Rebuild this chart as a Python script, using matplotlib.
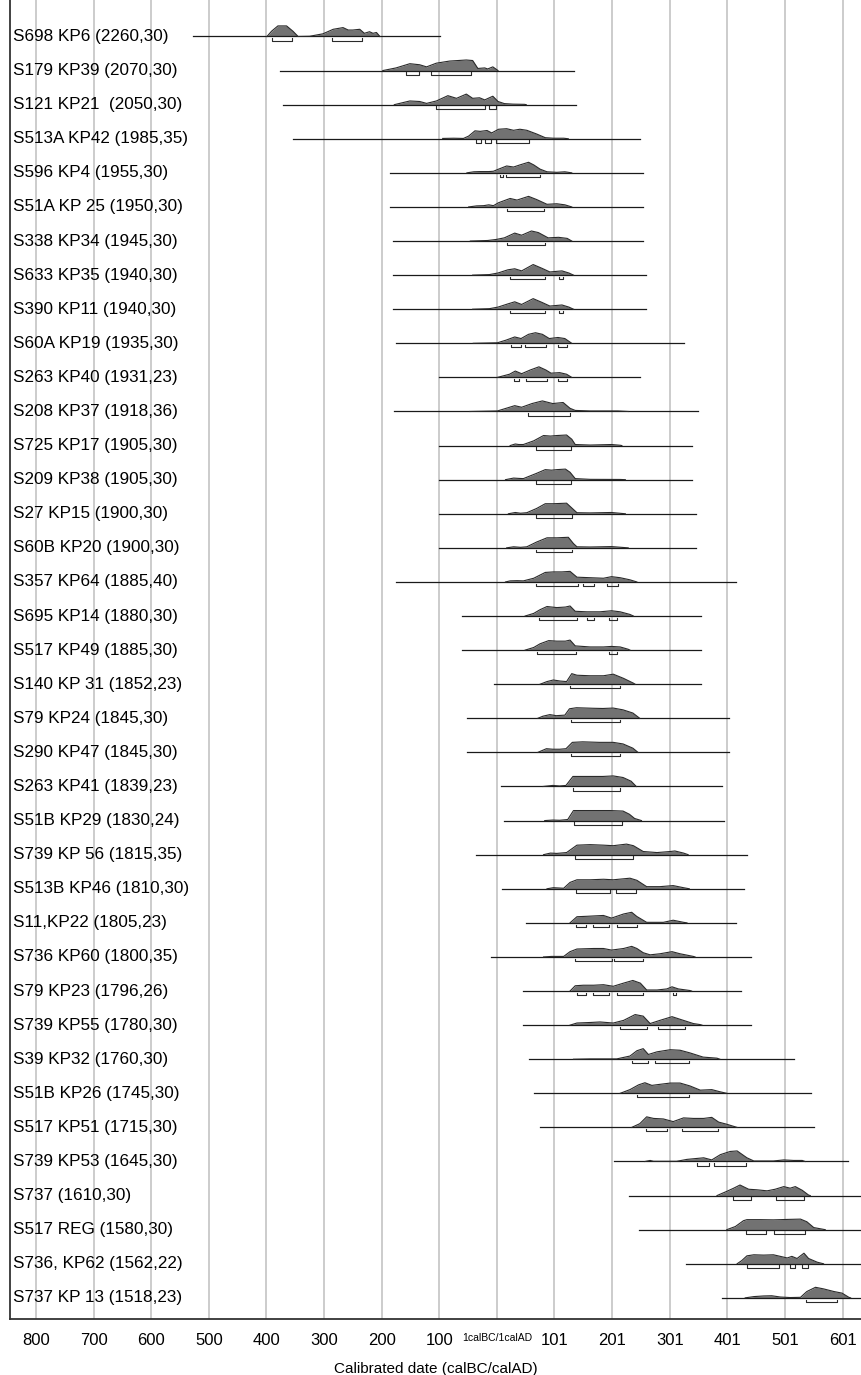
import matplotlib
matplotlib.use("Agg")
import matplotlib.pyplot as plt

plt.rcParams['font.family'] = ['Liberation Sans', 'DejaVu Sans']

# sample labels, top to bottom
labels = [
    "S698 KP6 (2260,30)", "S179 KP39 (2070,30)", "S121 KP21  (2050,30)",
    "S513A KP42 (1985,35)", "S596 KP4 (1955,30)", "S51A KP 25 (1950,30)",
    "S338 KP34 (1945,30)", "S633 KP35 (1940,30)", "S390 KP11 (1940,30)",
    "S60A KP19 (1935,30)", "S263 KP40 (1931,23)", "S208 KP37 (1918,36)",
    "S725 KP17 (1905,30)", "S209 KP38 (1905,30)", "S27 KP15 (1900,30)",
    "S60B KP20 (1900,30)", "S357 KP64 (1885,40)", "S695 KP14 (1880,30)",
    "S517 KP49 (1885,30)", "S140 KP 31 (1852,23)", "S79 KP24 (1845,30)",
    "S290 KP47 (1845,30)", "S263 KP41 (1839,23)", "S51B KP29 (1830,24)",
    "S739 KP 56 (1815,35)", "S513B KP46 (1810,30)", "S11,KP22 (1805,23)",
    "S736 KP60 (1800,35)", "S79 KP23 (1796,26)", "S739 KP55 (1780,30)",
    "S39 KP32 (1760,30)", "S51B KP26 (1745,30)", "S517 KP51 (1715,30)",
    "S739 KP53 (1645,30)", "S737 (1610,30)", "S517 REG (1580,30)",
    "S736, KP62 (1562,22)", "S737 KP 13 (1518,23)",
]

# extent of the horizontal line of each row (years, BC negative)
spans = [
    (-528, -98), (-377, 134), (-371, 138), (-354, 249), (-185, 254),
    (-185, 254), (-181, 253), (-181, 259), (-181, 259), (-175, 325),
    (-100, 249), (-179, 349), (-100, 339), (-100, 339), (-100, 345),
    (-100, 345), (-175, 415), (-60, 354), (-60, 354), (-5, 354),
    (-52, 403), (-52, 403), (8, 390), (13, 394), (-36, 434),
    (9, 429), (50, 415), (-10, 441), (45, 424), (45, 441),
    (55, 515), (65, 545), (75, 550), (204, 610), (230, 640),
    (246, 640), (329, 640), (390, 640),
]

# probability curves: (year, relative height)
density = [
    [(-399, 0), (-391, 0.5), (-380, 1.0), (-365, 1.0), (-354, 0.5), (-345, 0),
     (-325, 0.02), (-302, 0.25), (-284, 0.68), (-267, 0.84), (-258, 0.61),
     (-250, 0.61), (-238, 0.68), (-230, 0.3), (-221, 0.45), (-215, 0.3),
     (-209, 0.38), (-203, 0)],
    [(-198, 0), (-175, 0.25), (-151, 0.65), (-134, 0.55), (-122, 0.35),
     (-105, 0.7), (-82, 0.9), (-53, 1.0), (-42, 0.95), (-33, 0.2), (-21, 0.25),
     (-16, 0.15), (-7, 0.35), (2, 0)],
    [(-178, 0), (-151, 0.35), (-134, 0.3), (-122, 0.12), (-105, 0.35),
     (-85, 0.85), (-70, 0.6), (-53, 1.0), (-42, 0.6), (-30, 0.65), (-21, 0.45),
     (-7, 0.8), (2, 0.3), (13, 0.1), (28, 0.05), (48, 0.03), (51, 0)],
    [(-94, 0.03), (-75, 0.05), (-58, 0.03), (-49, 0.25), (-38, 0.75),
     (-29, 0.7), (-17, 0.78), (-9, 0.55), (3, 0.9), (17, 0.95), (29, 0.8),
     (40, 0.9), (52, 0.8), (69, 0.45), (84, 0.1), (98, 0.05), (116, 0.05),
     (124, 0)],
    [(-52, 0), (-40, 0.1), (-29, 0.12), (-14, 0.12), (-6, 0.15), (3, 0.35),
     (17, 0.65), (29, 0.55), (40, 0.75), (55, 1.0), (64, 0.75), (75, 0.35),
     (87, 0.1), (104, 0.05), (118, 0.1), (130, 0)],
    [(-49, 0), (-35, 0.1), (-23, 0.12), (-14, 0.2), (-6, 0.12), (3, 0.4),
     (23, 0.8), (35, 0.65), (55, 1.0), (69, 0.7), (87, 0.25), (104, 0.3),
     (118, 0.2), (130, 0)],
    [(-46, 0), (-16, 0.05), (-1, 0.15), (13, 0.3), (31, 0.75), (43, 0.55),
     (60, 0.95), (72, 0.8), (89, 0.3), (107, 0.35), (122, 0.25), (130, 0)],
    [(-42, 0), (-13, 0.05), (2, 0.2), (19, 0.5), (31, 0.6), (43, 0.4),
     (63, 1.0), (78, 0.65), (92, 0.3), (113, 0.4), (125, 0.2), (133, 0)],
    [(-42, 0), (-13, 0.05), (2, 0.2), (19, 0.5), (31, 0.7), (43, 0.45),
     (63, 1.0), (78, 0.65), (92, 0.3), (113, 0.4), (125, 0.2), (133, 0)],
    [(-41, 0), (1, 0.05), (16, 0.3), (31, 0.6), (42, 0.45), (55, 0.85),
     (67, 1.0), (79, 0.85), (91, 0.45), (106, 0.55), (118, 0.45), (130, 0)],
    [(1, 0), (22, 0.3), (32, 0.6), (43, 0.35), (58, 0.7), (73, 1.0), (85, 0.7),
     (94, 0.4), (109, 0.45), (121, 0.3), (130, 0)],
    [(-47, 0), (1, 0.05), (19, 0.35), (31, 0.55), (43, 0.4), (61, 0.75),
     (79, 1.0), (97, 0.75), (115, 0.85), (127, 0.3), (136, 0.1), (162, 0.05),
     (210, 0.05), (228, 0)],
    [(23, 0), (32, 0.15), (38, 0.1), (46, 0.1), (64, 0.45), (81, 0.95),
     (93, 0.9), (104, 0.95), (121, 1.0), (130, 0.6), (136, 0.1), (162, 0.05),
     (199, 0.1), (214, 0.03), (217, 0)],
    [(15, 0), (29, 0.15), (38, 0.12), (46, 0.1), (69, 0.6), (84, 0.95),
     (95, 0.9), (104, 0.95), (119, 1.0), (127, 0.7), (136, 0.1), (162, 0.03),
     (214, 0.02), (223, 0)],
    [(20, 0), (32, 0.12), (41, 0.05), (52, 0.1), (69, 0.5), (84, 0.95),
     (98, 0.95), (121, 1.0), (133, 0.4), (139, 0.1), (162, 0.08), (199, 0.12),
     (223, 0)],
    [(17, 0), (29, 0.1), (41, 0.05), (52, 0.1), (69, 0.55), (87, 0.95),
     (104, 0.95), (124, 1.0), (133, 0.4), (139, 0.1), (162, 0.08), (199, 0.12),
     (228, 0)],
    [(15, 0), (23, 0.1), (35, 0.12), (46, 0.1), (64, 0.35), (84, 0.9),
     (98, 0.95), (113, 0.95), (127, 1.0), (139, 0.45), (162, 0.4), (185, 0.35),
     (199, 0.5), (214, 0.4), (231, 0.2), (243, 0)],
    [(49, 0), (64, 0.25), (75, 0.6), (87, 0.9), (104, 0.8), (119, 0.85),
     (127, 0.95), (136, 0.45), (156, 0.4), (179, 0.4), (199, 0.5), (214, 0.4),
     (231, 0.15), (237, 0)],
    [(49, 0), (64, 0.25), (75, 0.6), (90, 0.9), (104, 0.85), (119, 0.85),
     (127, 0.95), (136, 0.4), (162, 0.3), (185, 0.3), (199, 0.35), (214, 0.3),
     (228, 0.08), (231, 0)],
    [(75, 0), (87, 0.25), (98, 0.4), (110, 0.3), (121, 0.25), (130, 1.0),
     (139, 0.85), (162, 0.8), (185, 0.8), (202, 0.95), (220, 0.55),
     (237, 0.1), (240, 0)],
    [(71, 0), (80, 0.2), (92, 0.35), (103, 0.25), (118, 0.3), (126, 0.9),
     (138, 1.0), (167, 0.95), (184, 0.93), (202, 0.97), (219, 0.8),
     (236, 0.5), (248, 0)],
    [(71, 0), (86, 0.35), (97, 0.3), (109, 0.3), (120, 0.35), (131, 0.95),
     (149, 1.0), (178, 0.95), (202, 0.95), (219, 0.8), (236, 0.4), (245, 0)],
    [(80, 0), (97, 0.1), (109, 0.05), (120, 0.1), (132, 0.95), (161, 0.95),
     (184, 0.95), (202, 1.0), (219, 0.85), (233, 0.5), (242, 0)],
    [(83, 0), (97, 0.05), (109, 0.03), (123, 0.1), (133, 0.95), (161, 0.95),
     (196, 0.95), (219, 0.9), (230, 0.6), (239, 0.2), (251, 0)],
    [(81, 0), (93, 0.15), (104, 0.12), (121, 0.2), (139, 0.9), (162, 0.95),
     (185, 0.9), (202, 0.85), (225, 1.0), (237, 0.85), (254, 0.3), (278, 0.2),
     (301, 0.3), (309, 0.35), (324, 0.15), (332, 0)],
    [(87, 0), (98, 0.1), (116, 0.05), (127, 0.6), (139, 0.85), (162, 0.85),
     (185, 0.9), (202, 0.85), (231, 1.0), (243, 0.8), (260, 0.2), (283, 0.2),
     (306, 0.3), (324, 0.1), (334, 0)],
    [(127, 0), (139, 0.58), (156, 0.62), (185, 0.7), (199, 0.45), (220, 0.84),
     (234, 1.0), (243, 0.6), (260, 0.05), (289, 0.05), (306, 0.25),
     (324, 0.05), (330, 0)],
    [(81, 0), (95, 0.05), (116, 0.05), (127, 0.5), (139, 0.75), (168, 0.8),
     (185, 0.8), (199, 0.65), (220, 0.8), (234, 1.0), (243, 0.8), (254, 0.4),
     (266, 0.2), (283, 0.3), (304, 0.5), (318, 0.3), (341, 0.05), (344, 0)],
    [(127, 0), (136, 0.5), (150, 0.55), (168, 0.55), (185, 0.6), (202, 0.45),
     (220, 0.75), (236, 1.0), (249, 0.75), (260, 0.1), (278, 0.1), (295, 0.2),
     (304, 0.4), (315, 0.2), (335, 0.05), (338, 0)],
    [(127, 0), (139, 0.2), (162, 0.25), (179, 0.3), (202, 0.2), (220, 0.45),
     (240, 1.0), (254, 0.85), (266, 0.15), (283, 0.45), (304, 0.8), (321, 0.5),
     (341, 0.15), (353, 0.05), (356, 0)],
    [(133, 0), (162, 0.03), (208, 0.03), (231, 0.3), (243, 0.8), (254, 1.0),
     (263, 0.45), (278, 0.7), (301, 0.9), (318, 0.85), (335, 0.6), (358, 0.2),
     (382, 0.1), (387, 0)],
    [(214, 0), (231, 0.35), (246, 0.8), (257, 1.0), (269, 0.75), (283, 0.85),
     (301, 0.97), (318, 0.97), (335, 0.7), (353, 0.3), (373, 0.35),
     (387, 0.15), (399, 0)],
    [(234, 0), (248, 0.35), (260, 1.0), (272, 0.85), (289, 0.8), (306, 0.55),
     (324, 0.9), (341, 0.85), (359, 0.85), (373, 0.95), (385, 0.5),
     (399, 0.3), (414, 0.05), (417, 0)],
    [(257, 0), (266, 0.1), (272, 0.02), (312, 0.02), (330, 0.2), (359, 0.35),
     (373, 0.15), (388, 0.65), (405, 0.95), (417, 1.0), (434, 0.35),
     (446, 0.05), (480, 0.05), (498, 0.15), (515, 0.1), (530, 0.1), (535, 0)],
    [(382, 0), (399, 0.4), (411, 0.7), (422, 1.0), (437, 0.6), (451, 0.55),
     (469, 0.45), (483, 0.6), (498, 0.85), (509, 0.7), (518, 0.85),
     (530, 0.5), (541, 0.05), (544, 0)],
    [(399, 0), (414, 0.3), (428, 0.85), (434, 0.95), (457, 0.95), (480, 0.93),
     (504, 0.97), (527, 1.0), (538, 0.75), (550, 0.2), (567, 0.03), (570, 0)],
    [(417, 0), (425, 0.3), (434, 0.75), (446, 0.85), (463, 0.82), (480, 0.85),
     (492, 0.7), (504, 0.55), (512, 0.7), (521, 0.5), (533, 1.0), (541, 0.5),
     (556, 0.15), (567, 0)],
    [(431, 0), (446, 0.12), (463, 0.18), (477, 0.2), (492, 0.08), (509, 0.03),
     (527, 0.05), (538, 0.6), (553, 1.0), (567, 0.85), (585, 0.6),
     (599, 0.45), (611, 0.05), (614, 0)],
]

# highest posterior density ranges drawn as brackets under each row
ranges = [
    [(-391, -356), (-287, -234)],
    [(-157, -136), (-115, -45)],
    [(-105, -20), (-14, -1)],
    [(-37, -28), (-21, -10), (-1, 55)],
    [(6, 10), (16, 75)],
    [(17, 81)],
    [(18, 84)],
    [(22, 84), (108, 114)],
    [(22, 84), (108, 114)],
    [(25, 42), (48, 86), (106, 121)],
    [(30, 38), (51, 87), (106, 121)],
    [(54, 127)],
    [(68, 128)],
    [(68, 128)],
    [(68, 130)],
    [(68, 130)],
    [(68, 141), (149, 169), (192, 210)],
    [(73, 139), (156, 168), (195, 208)],
    [(69, 138), (195, 208)],
    [(127, 214)],
    [(128, 214)],
    [(128, 214)],
    [(132, 213)],
    [(134, 217)],
    [(136, 237)],
    [(138, 197), (206, 241)],
    [(138, 154), (167, 195), (208, 244)],
    [(136, 199), (204, 253)],
    [(139, 154), (166, 195), (208, 254), (305, 311)],
    [(213, 260), (279, 326)],
    [(235, 263), (274, 333)],
    [(244, 334)],
    [(258, 295), (321, 383)],
    [(347, 369), (377, 432)],
    [(410, 441), (484, 533)],
    [(432, 467), (481, 534)],
    [(435, 490), (508, 517), (529, 540)],
    [(537, 591)],
]

tick_pos = [-800, -700, -600, -500, -400, -300, -200, -100, 0,
            100, 200, 300, 400, 500, 600]
tick_labels = ["800", "700", "600", "500", "400", "300", "200", "100",
               "1calBC/1calAD", "101", "201", "301", "401", "501", "601"]

PEAK = 0.31      # height of a full peak, in row units
LINE = '#1a1a1a'
FILL = '#727272'

fig = plt.figure(figsize=(8.61, 13.75), dpi=100)
ax = fig.add_axes([10 / 861, 56 / 1375, 851 / 861, 1319 / 1375])

for i, label in enumerate(labels):
    x0, x1 = spans[i]
    ax.plot([x0, x1], [i, i], color=LINE, lw=0.9, zorder=3)

    xs = [p[0] for p in density[i]]
    hs = [i - p[1] * PEAK for p in density[i]]
    ax.fill_between(xs, i, hs, color=FILL, lw=0, zorder=2)
    ax.plot(xs, hs, color='#2a2a2a', lw=0.8, zorder=3)

    for a, b in ranges[i]:
        yb = i + 0.12
        ax.plot([a, a, b, b], [i + 0.05, yb, yb, i + 0.05],
                color='#2a2a2a', lw=0.8, zorder=3)

    ax.text(-840, i, label, fontsize=12.3, va='center', ha='left', zorder=4)

ax.set_xlim(-845, 632)
ax.set_ylim(37.62, -1.07)
ax.set_yticks([])
ax.set_xticks(tick_pos)
ax.set_xticklabels(tick_labels, fontsize=12)
for t in ax.get_xticklabels():
    if t.get_text() == "1calBC/1calAD":
        t.set_fontsize(7.5)
ax.tick_params(axis='x', length=0, pad=10)
ax.grid(axis='x', color='#c4c4c4', lw=1.2, zorder=0)
ax.set_axisbelow(True)
ax.set_xlabel("Calibrated date (calBC/calAD)", fontsize=11, labelpad=10)

for side in ['top', 'right']:
    ax.spines[side].set_visible(False)
for side in ['left', 'bottom']:
    ax.spines[side].set_color('#333333')
    ax.spines[side].set_linewidth(1.3)

fig.savefig("out.png", dpi=100)
